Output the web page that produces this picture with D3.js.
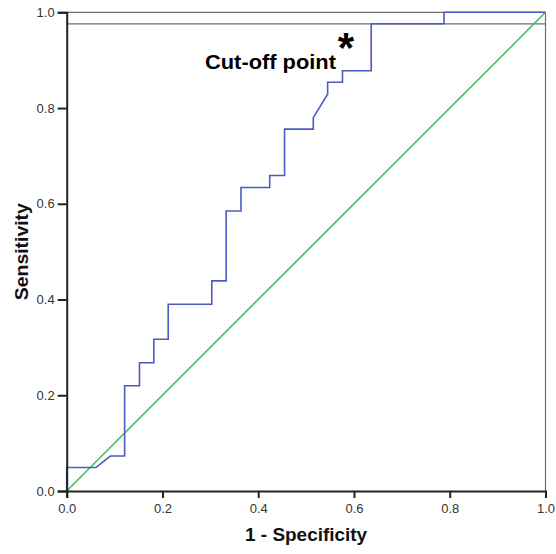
<!DOCTYPE html>
<html>
<head>
<meta charset="utf-8">
<script src="https://cdn.jsdelivr.net/npm/d3@7"></script>
<style>
  html, body { margin: 0; padding: 0; background: #fff; }
  svg { display: block; }
</style>
</head>
<body>
<svg id="chart" width="556" height="554"></svg>
<script>
// ROC curve coordinates (1 - Specificity, Sensitivity)
const fpr = [0, 0, 0.061, 0.091, 0.121, 0.121, 0.152, 0.152, 0.182, 0.182, 0.212, 0.212,
             0.303, 0.303, 0.333, 0.333, 0.364, 0.364, 0.424, 0.424, 0.455, 0.455, 0.515,
             0.515, 0.545, 0.545, 0.576, 0.576, 0.636, 0.636, 0.788, 0.788, 1.0];
const tpr = [0, 0.049, 0.049, 0.073, 0.073, 0.220, 0.220, 0.268, 0.268, 0.317, 0.317, 0.390,
             0.390, 0.439, 0.439, 0.585, 0.585, 0.634, 0.634, 0.659, 0.659, 0.756, 0.756,
             0.780, 0.829, 0.854, 0.854, 0.878, 0.878, 0.976, 0.976, 1.0, 1.0];
// reference (chance) diagonal
const refX = [0, 1];
const refY = [0, 1];
// horizontal guide line at sensitivity of cut-off
const guideY = 0.976;
const tickValues = [0.0, 0.2, 0.4, 0.6, 0.8, 1.0];
const xTitle = "1 - Specificity";
const yTitle = "Sensitivity";
const annotation = "Cut-off point";

const svg = d3.select("#chart");
const x = d3.scaleLinear().domain([0, 1]).range([66.7, 545.5]);
const y = d3.scaleLinear().domain([0, 1]).range([491, 12.3]);

// frame lines (top and right)
svg.append("line").attr("x1", x(0)).attr("x2", x(1)).attr("y1", y(1)).attr("y2", y(1))
  .attr("stroke", "#6e6e6e").attr("stroke-width", 1.2);
svg.append("line").attr("x1", x(1)).attr("x2", x(1)).attr("y1", y(0)).attr("y2", y(1))
  .attr("stroke", "#6e6e6e").attr("stroke-width", 1.2);
// guide line
svg.append("line").attr("x1", x(0)).attr("x2", x(1)).attr("y1", y(guideY)).attr("y2", y(guideY))
  .attr("stroke", "#6e6e6e").attr("stroke-width", 1.2);

// diagonal
const refData = refX.map((v, i) => [v, refY[i]]);
svg.append("path").datum(refData)
  .attr("d", d3.line().x(d => x(d[0])).y(d => y(d[1])))
  .attr("fill", "none").attr("stroke", "#3dc35f").attr("stroke-width", 1.6);

// ROC curve
const rocData = fpr.map((v, i) => [v, tpr[i]]);
svg.append("path").datum(rocData)
  .attr("d", d3.line().x(d => x(d[0])).y(d => y(d[1])))
  .attr("fill", "none").attr("stroke", "#4b5bbf").attr("stroke-width", 1.6);

// axes
const xAxis = svg.append("g").attr("transform", `translate(0,${y(0)})`)
  .call(d3.axisBottom(x).tickValues(tickValues).tickFormat(d3.format(".1f")).tickSize(7).tickPadding(6));
const yAxis = svg.append("g").attr("transform", `translate(${x(0)},0)`)
  .call(d3.axisLeft(y).tickValues(tickValues).tickFormat(d3.format(".1f")).tickSize(9).tickPadding(3));
[xAxis, yAxis].forEach(g => {
  g.select(".domain").attr("stroke", "#222").attr("stroke-width", 2);
  g.selectAll(".tick line").attr("stroke", "#222").attr("stroke-width", 2);
  g.selectAll(".tick text").attr("fill", "#333")
    .style("font-family", "'Liberation Sans', Arial, sans-serif").style("font-size", "13px");
});

// titles
svg.append("text").attr("x", (x(0) + x(1)) / 2).attr("y", 541)
  .attr("text-anchor", "middle")
  .style("font-family", "'Liberation Sans', Arial, sans-serif").style("font-weight", "bold")
  .style("font-size", "19px").attr("fill", "#111")
  .attr("textLength", 122).attr("lengthAdjust", "spacingAndGlyphs")
  .text(xTitle);
svg.append("text").attr("transform", `translate(28,${(y(0) + y(1)) / 2}) rotate(-90)`)
  .attr("text-anchor", "middle")
  .style("font-family", "'Liberation Sans', Arial, sans-serif").style("font-weight", "bold")
  .style("font-size", "19px").attr("fill", "#111")
  .attr("textLength", 97).attr("lengthAdjust", "spacingAndGlyphs")
  .text(yTitle);

// annotation
svg.append("text").attr("x", 205).attr("y", 69)
  .style("font-family", "'Liberation Sans', Arial, sans-serif").style("font-weight", "bold")
  .style("font-size", "21px").attr("fill", "#000")
  .attr("textLength", 131).attr("lengthAdjust", "spacingAndGlyphs")
  .text(annotation);
svg.append("text").attr("x", 346).attr("y", 62)
  .attr("text-anchor", "middle")
  .style("font-family", "'Liberation Sans', Arial, sans-serif").style("font-weight", "bold")
  .style("font-size", "42px").attr("fill", "#000")
  .text("*");
</script>
</body>
</html>
